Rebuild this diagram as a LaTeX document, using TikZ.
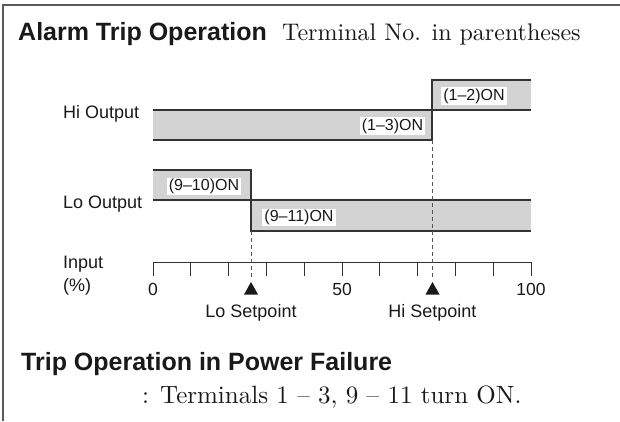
\documentclass[tikz,border=0pt]{standalone}
\usepackage{fontspec}
\setsansfont{Liberation Sans}
\newfontfamily\serifwide[Extension=.otf,Ligatures=TeX]{lmroman10-regular}
\definecolor{linecol}{HTML}{333333}
\definecolor{shadecol}{HTML}{D3D3D3}
\definecolor{bordercol}{HTML}{5A5A5A}
\definecolor{dashcol}{HTML}{555555}
\begin{document}
\begin{tikzpicture}[x=1pt,y=-1pt,
  stepline/.style={draw=linecol, line width=1.3pt},
  shadefill/.style={fill=shadecol},
  vdashline/.style={draw=dashcol, line width=0.9pt, dash pattern=on 4pt off 3pt},
  axisline/.style={draw=linecol, line width=0.9pt},
  lbl/.style={font=\sffamily\fontsize{18}{20}\selectfont, inner sep=0pt, text=black!90},
  digit/.style={font=\sffamily\fontsize{17.5}{20}\selectfont, inner sep=0pt, text=black!90},
  onlbl/.style={font=\sffamily\fontsize{16}{18}\selectfont, fill=white, inner xsep=2pt, inner ysep=1.5pt, text=black!90},
  boldtitle/.style={font=\sffamily\bfseries\fontsize{25}{28}\selectfont, inner sep=0pt, anchor=base west, text=black!90},
  seriftext/.style={font=\serifwide\fontsize{24}{28}\selectfont, inner sep=0pt, anchor=base west, text=black!90},
  tri/.style={fill=black!90}
]
\useasboundingbox (0,0) rectangle (620,421);
% frame
\draw[draw=bordercol, line width=1.8pt] (3,421) -- (3,5) -- (620,5);

% titles
\node[boldtitle] (title) at (18,40) {Alarm Trip Operation};
\node[seriftext] (subtitle) at (282,40) {Terminal No. in parentheses};

% Hi output
\fill[shadefill] (153,110) rectangle (432,140);
\fill[shadefill] (432,80) rectangle (531,110);
\draw[stepline] (153,110) -- (531,110);
\draw[stepline] (153,140) -- (432,140);
\draw[stepline] (531,80) -- (432,80) -- (432,140);
% Lo output
\fill[shadefill] (153,170) rectangle (251,200);
\fill[shadefill] (251,200) rectangle (531,231);
\draw[stepline] (153,200) -- (531,200);
\draw[stepline] (153,170) -- (251,170) -- (251,231) -- (531,231);

\node[lbl, anchor=base west] (hiout) at (63,118) {Hi Output};
\node[lbl, anchor=base west] (loout) at (63,208) {Lo Output};

\node[onlbl] (on12) at (474,96) {(1--2)ON};
\node[onlbl] (on13) at (392.5,126) {(1--3)ON};
\node[onlbl] (on910) at (204,186.5) {(9--10)ON};
\node[onlbl] (on911) at (299,217.5) {(9--11)ON};

% axis
\draw[axisline] (153,262) -- (531,262);
\foreach \i in {0,...,10} {
  \draw[axisline] ({153+37.8*\i},262) -- ++(0,14);
}
\node[digit] (d0) at (153,289) {0};
\node[digit] (d50) at (342,289) {50};
\node[digit] (d100) at (531,289) {100};

\node[lbl, anchor=base west] (input) at (63,268) {Input};
\node[lbl, anchor=base west] (pct) at (63,291) {(\%)};

% setpoints
\fill[tri] (251,282) -- (258,294.5) -- (244,294.5) -- cycle;
\fill[tri] (432.5,282) -- (439.5,294.5) -- (425.5,294.5) -- cycle;
\coordinate (lostep) at (251,231);
\coordinate (lotri) at (251,279);
\coordinate (histep) at (432.5,140);
\coordinate (hitri) at (432.5,279);
\draw[vdashline] (lostep) -- (lotri);
\draw[vdashline] (histep) -- (hitri);

\node[lbl, anchor=base] (losp) at (251,317) {Lo Setpoint};
\node[lbl, anchor=base] (hisp) at (432.5,317) {Hi Setpoint};

% bottom
\node[boldtitle] (pf) at (21,370) {Trip Operation in Power Failure};
\node[seriftext, font=\serifwide\fontsize{25}{28}\selectfont] (pftext) at (142,403) {: Terminals 1~--~3, 9~--~11 turn ON.};
\end{tikzpicture}
\end{document}
